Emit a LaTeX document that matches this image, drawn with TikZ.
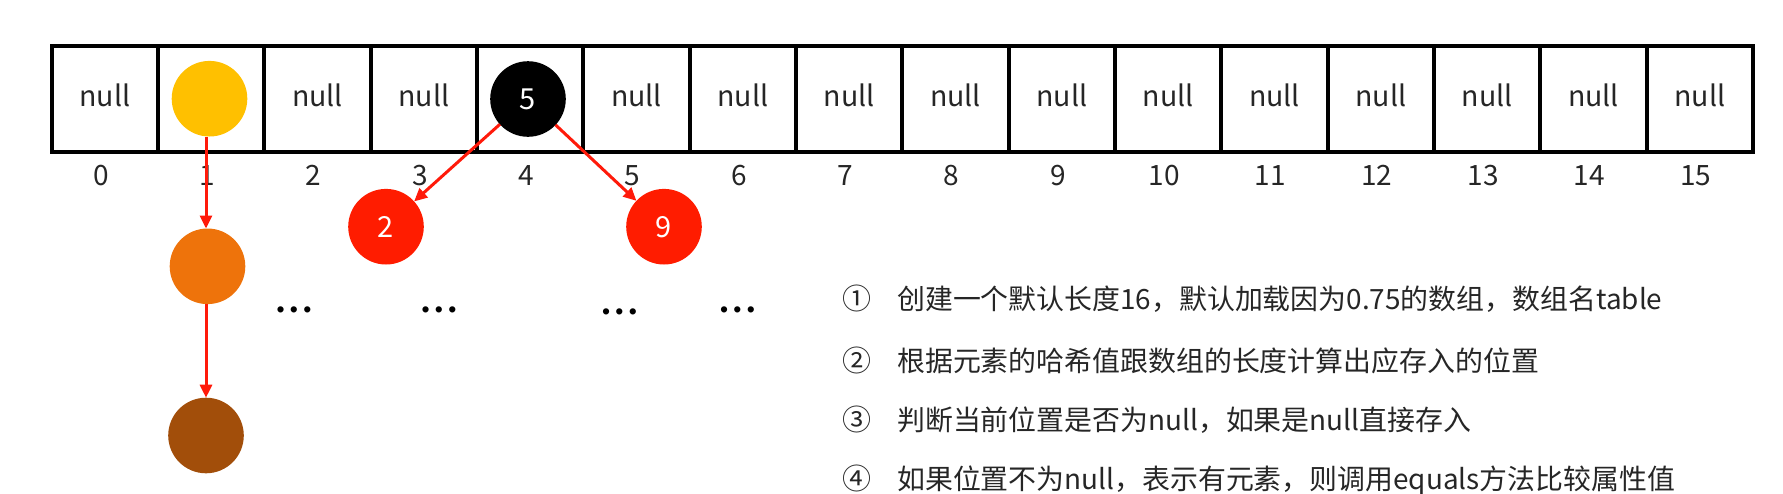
\documentclass[tikz,border=0pt]{standalone}
\usepackage{fontspec}
\setmainfont{Noto Sans CJK SC}
\newfontfamily\libsans{Liberation Sans}
\usetikzlibrary{arrows.meta}
\definecolor{goldc}{HTML}{FFC000}
\definecolor{orangec}{HTML}{EE730B}
\definecolor{brownc}{HTML}{A24E0A}
\definecolor{redc}{HTML}{FF1C00}
\definecolor{arrc}{HTML}{FF1A0A}
\definecolor{txtc}{HTML}{262626}
\newcommand{\dotsrow}{•\kern5.3pt•\kern5.3pt•}
\begin{document}
\begin{tikzpicture}[x=1pt,y=1pt,
  cellbox/.style={draw=black,line width=4pt,minimum width=106.33pt,minimum height=106.3pt,inner sep=0pt,outer sep=0pt},
  celltext/.style={anchor=base,text=txtc,font=\fontsize{28.5}{34}\selectfont,inner sep=0pt},
  idx/.style={anchor=base,text=txtc,font=\fontsize{28}{34}\selectfont,inner sep=0pt},
  ball/.style={circle,minimum size=75.6pt,inner sep=0pt,outer sep=0pt,font=\fontsize{29}{34}\selectfont},
  arr/.style={draw=arrc,line width=3pt,-{Triangle[length=13pt,width=12pt]}},
  ell/.style={anchor=base,inner sep=0pt,font=\libsans\fontsize{23}{26}\selectfont},
  circnum/.style={anchor=base,text=txtc,inner sep=0pt,font=\fontsize{29}{34}\selectfont},
  stepline/.style={anchor=base west,text=txtc,inner sep=0pt,font=\fontsize{27.9}{34}\selectfont}]
\useasboundingbox (0,0) rectangle (1783,-493);
% array cells
\foreach \i in {0,...,15} {
  \node[cellbox] (c\i) at ({51.7+(\i+0.5)*106.33},-98.9) {};
}
\foreach \i in {0,2,3,5,6,7,8,9,10,11,12,13,14,15} {
  \node[celltext] (n\i) at ({51.7+(\i+0.5)*106.33},-106.5) {null};
}
% index labels
\foreach \i in {0,...,15} {
  \node[idx] (l\i) at ({51.7+(\i+0.5)*106.33-4},-185) {\i};
}
% balls
\node[ball,fill=goldc] (b1) at (209.5,-98.7) {};
\node[ball,fill=black,text=white] (b5) at (528,-99) {5};
\node[ball,fill=redc,text=white] (b2) at (386,-226.7) {2};
\node[ball,fill=redc,text=white] (b9) at (664,-226.7) {9};
\node[ball,fill=orangec] (o1) at (207.5,-266.3) {};
\node[ball,fill=brownc] (o2) at (206,-435.5) {};
% arrows
\draw[arr] (b1.south -| o2) -- (o1.north -| o2);
\draw[arr] (o1.south -| o2) -- (o2.north);
\draw[arr] (b5) -- (b2);
\draw[arr] (b5) -- (b9);
% ellipses
\node[ell] (e1) at (294,-317.1) {\dotsrow};
\node[ell] (e2) at (439,-317.1) {\dotsrow};
\node[ell] (e3) at (619.5,-319.1) {\dotsrow};
\node[ell] (e4) at (737.5,-317.1) {\dotsrow};
% steps
\node[circnum] (m1) at (856.7,-309.5) {①};
\node[circnum] (m2) at (856.7,-371.3) {②};
\node[circnum] (m3) at (856.7,-430.5) {③};
\node[circnum] (m4) at (856.7,-489.5) {④};
\node[stepline] (t1) at (897,-309.5) {创建一个默认长度16，默认加载因为0.75的数组，数组名table};
\node[stepline] (t2) at (897,-371.3) {根据元素的哈希值跟数组的长度计算出应存入的位置};
\node[stepline] (t3) at (897,-430.5) {判断当前位置是否为null，如果是null直接存入};
\node[stepline] (t4) at (897,-489.5) {如果位置不为null，表示有元素，则调用equals方法比较属性值};
\end{tikzpicture}
\end{document}
